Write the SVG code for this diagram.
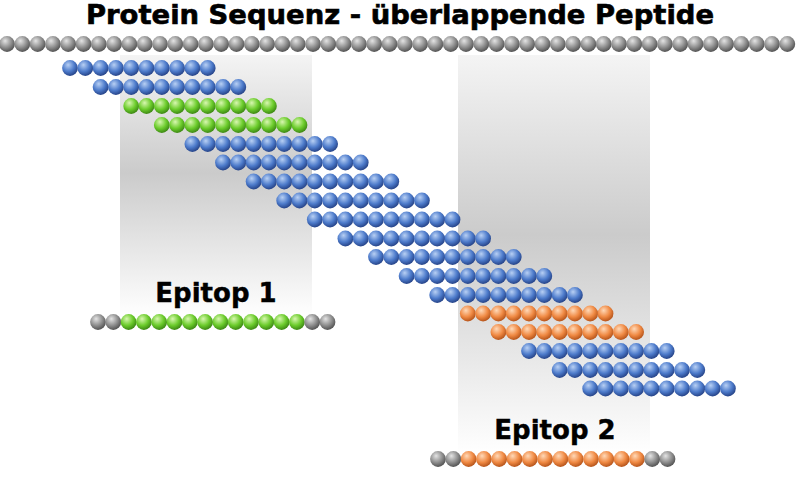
<svg xmlns="http://www.w3.org/2000/svg" xmlns:xlink="http://www.w3.org/1999/xlink" width="800" height="479" viewBox="0 0 800 479">
<style>
.t{font-family:"DejaVu Sans",sans-serif;font-weight:bold;fill:#000;text-anchor:middle}
</style>
<defs>
<radialGradient id="gg" cx="0.4" cy="0.35" r="0.65" fx="0.38" fy="0.3"><stop offset="0" stop-color="#e4e4e4"/><stop offset="0.6" stop-color="#8f8f8f"/><stop offset="1" stop-color="#555"/></radialGradient>
<radialGradient id="gb" cx="0.4" cy="0.35" r="0.65" fx="0.38" fy="0.3"><stop offset="0" stop-color="#b8d0f4"/><stop offset="0.6" stop-color="#4d7bcb"/><stop offset="1" stop-color="#27458a"/></radialGradient>
<radialGradient id="gn" cx="0.4" cy="0.35" r="0.65" fx="0.38" fy="0.3"><stop offset="0" stop-color="#d8f7b0"/><stop offset="0.6" stop-color="#6ccc2c"/><stop offset="1" stop-color="#3e8a14"/></radialGradient>
<radialGradient id="go" cx="0.4" cy="0.35" r="0.65" fx="0.38" fy="0.3"><stop offset="0" stop-color="#ffd9b8"/><stop offset="0.6" stop-color="#f08a44"/><stop offset="1" stop-color="#b8561c"/></radialGradient>
<linearGradient id="pan" x1="0" y1="0" x2="0" y2="1"><stop offset="0" stop-color="#f4f4f4"/><stop offset="0.45" stop-color="#cbcbcb"/><stop offset="1" stop-color="#ffffff"/></linearGradient>
<circle id="G" r="7.9" fill="url(#gg)"/>
<circle id="B" r="7.9" fill="url(#gb)"/>
<circle id="N" r="7.9" fill="url(#gn)"/>
<circle id="O" r="7.9" fill="url(#go)"/>
<g id="rb"><use href="#B" x="0"/><use href="#B" x="15.3"/><use href="#B" x="30.6"/><use href="#B" x="45.9"/><use href="#B" x="61.2"/><use href="#B" x="76.5"/><use href="#B" x="91.8"/><use href="#B" x="107.1"/><use href="#B" x="122.4"/><use href="#B" x="137.7"/></g>
<g id="rn"><use href="#N" x="0"/><use href="#N" x="15.3"/><use href="#N" x="30.6"/><use href="#N" x="45.9"/><use href="#N" x="61.2"/><use href="#N" x="76.5"/><use href="#N" x="91.8"/><use href="#N" x="107.1"/><use href="#N" x="122.4"/><use href="#N" x="137.7"/></g>
<g id="ro"><use href="#O" x="0"/><use href="#O" x="15.3"/><use href="#O" x="30.6"/><use href="#O" x="45.9"/><use href="#O" x="61.2"/><use href="#O" x="76.5"/><use href="#O" x="91.8"/><use href="#O" x="107.1"/><use href="#O" x="122.4"/><use href="#O" x="137.7"/></g>
<g id="rg10"><use href="#G" x="0"/><use href="#G" x="15.3"/><use href="#G" x="30.6"/><use href="#G" x="45.9"/><use href="#G" x="61.2"/><use href="#G" x="76.5"/><use href="#G" x="91.8"/><use href="#G" x="107.1"/><use href="#G" x="122.4"/><use href="#G" x="137.7"/></g>
</defs>
<rect width="800" height="479" fill="#fff"/>
<g id="panels">
<rect x="120" y="55" width="192" height="262" fill="url(#pan)"/>
<rect x="458" y="55" width="192" height="400" fill="url(#pan)"/>
</g>
<text class="t" x="400" y="24" font-size="26" stroke="#000" stroke-width="0.6" textLength="628" lengthAdjust="spacingAndGlyphs">Protein Sequenz - überlappende Peptide</text>
<g id="protein">
<use href="#rg10" x="7" y="44"/><use href="#rg10" x="160" y="44"/><use href="#rg10" x="313" y="44"/><use href="#rg10" x="466" y="44"/><use href="#rg10" x="619" y="44"/>
<use href="#G" x="772" y="44"/><use href="#G" x="787.3" y="44"/>
</g>
<g id="peptides">
<use href="#rb" x="70" y="68"/>
<use href="#rb" x="100.6" y="87"/>
<use href="#rn" x="131.2" y="106"/>
<use href="#rn" x="161.8" y="125"/>
<use href="#rb" x="192.4" y="144"/>
<use href="#rb" x="223" y="162.5"/>
<use href="#rb" x="253.6" y="181.5"/>
<use href="#rb" x="284.2" y="200.5"/>
<use href="#rb" x="314.8" y="219.5"/>
<use href="#rb" x="345.4" y="238.5"/>
<use href="#rb" x="376" y="257"/>
<use href="#rb" x="406.6" y="276"/>
<use href="#rb" x="437.2" y="295"/>
<use href="#ro" x="467.8" y="313.5"/>
<use href="#ro" x="498.4" y="332"/>
<use href="#rb" x="529" y="351"/>
<use href="#rb" x="559.6" y="370"/>
<use href="#rb" x="590.2" y="388.5"/>
</g>
<g id="epitop1">
<text class="t" x="216" y="302" font-size="26" stroke="#000" stroke-width="0.4">Epitop 1</text>
<use href="#G" x="98" y="322"/><use href="#G" x="113.3" y="322"/>
<use href="#rn" x="128.6" y="322"/><use href="#N" x="281.6" y="322"/><use href="#N" x="296.9" y="322"/>
<use href="#G" x="312.2" y="322"/><use href="#G" x="327.5" y="322"/>
</g>
<g id="epitop2">
<text class="t" x="555" y="439" font-size="26" stroke="#000" stroke-width="0.4">Epitop 2</text>
<use href="#G" x="438" y="459"/><use href="#G" x="453.3" y="459"/>
<use href="#ro" x="468.6" y="459"/><use href="#O" x="621.6" y="459"/><use href="#O" x="636.9" y="459"/>
<use href="#G" x="652.2" y="459"/><use href="#G" x="667.5" y="459"/>
</g>
<g id="connectors"/>
</svg>
